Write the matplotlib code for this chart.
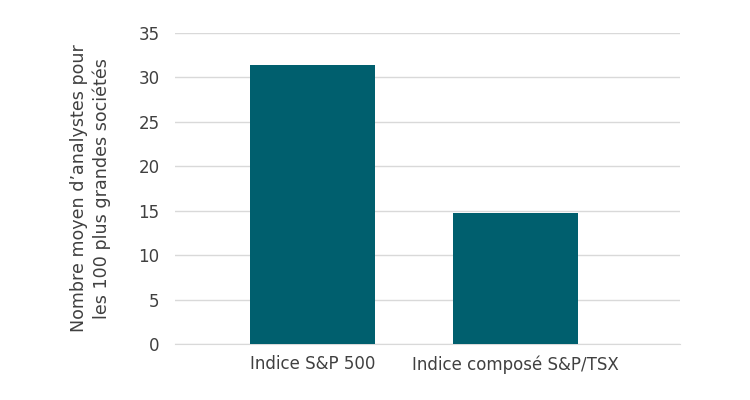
import matplotlib.pyplot as plt

# Données
categories = ["Indice S&P 500", "Indice composé S&P/TSX"]
valeurs = [31.4, 14.7]
yticks = [0, 5, 10, 15, 20, 25, 30, 35]

plt.rcParams['font.family'] = ['DejaVu Sans']

fig = plt.figure(figsize=(7.5, 4), dpi=100)
ax = fig.add_axes([0.233, 0.14, 0.674, 0.7775])

x = range(len(categories))
ax.bar(x, valeurs, width=0.616, color="#005f6e", zorder=3)

ax.set_xlim(-0.68, 1.81)
ax.set_ylim(0, 35)
ax.set_yticks(yticks)
ax.set_xticks(list(x))
ax.set_xticklabels(categories)

ax.grid(axis="y", color="#d9d9d9", linewidth=1, zorder=0)
for s in ["top", "right", "left"]:
    ax.spines[s].set_visible(False)
ax.spines["bottom"].set_color("#d9d9d9")
ax.tick_params(axis="both", length=0, labelsize=12, colors="#404040")
ax.tick_params(axis="y", pad=11)
ax.tick_params(axis="x", pad=8)

ax.set_ylabel("Nombre moyen d’analystes pour\nles 100 plus grandes sociétés",
              fontsize=12.6, color="#404040", labelpad=20, linespacing=1.25)

fig.savefig("out.png")
